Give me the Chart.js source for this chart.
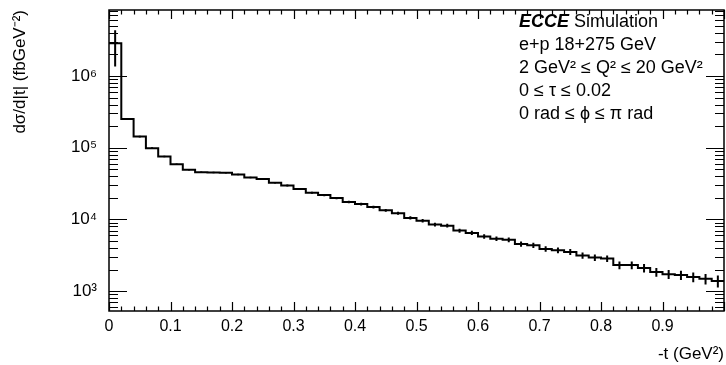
<!DOCTYPE html>
<html>
<head>
<meta charset="utf-8">
<script src="https://cdn.jsdelivr.net/npm/chart.js@4/dist/chart.umd.min.js"></script>
<style>
html, body { margin: 0; padding: 0; background: #fff; }
canvas { display: block; }
</style>
</head>
<body>
<canvas id="xsec" width="726" height="365"></canvas>
<script>
// -t bin edges (GeV^2), 50 bins of 0.02
const binEdges = [0, 0.02, 0.04, 0.06, 0.08, 0.10, 0.12, 0.14, 0.16, 0.18,
  0.20, 0.22, 0.24, 0.26, 0.28, 0.30, 0.32, 0.34, 0.36, 0.38,
  0.40, 0.42, 0.44, 0.46, 0.48, 0.50, 0.52, 0.54, 0.56, 0.58,
  0.60, 0.62, 0.64, 0.66, 0.68, 0.70, 0.72, 0.74, 0.76, 0.78,
  0.80, 0.82, 0.84, 0.86, 0.88, 0.90, 0.92, 0.94, 0.96, 0.98, 1.00];

// dsigma/d|t| per bin (fb GeV^-2)
const xsec = [2.85e6, 2.52e5, 1.43e5, 9.86e4, 7.55e4, 5.88e4, 4.93e4, 4.55e4, 4.52e4, 4.48e4,
  4.24e4, 3.85e4, 3.66e4, 3.25e4, 2.98e4, 2.66e4, 2.36e4, 2.19e4, 1.99e4, 1.75e4,
  1.64e4, 1.49e4, 1.34e4, 1.22e4, 1.05e4, 9.6e3, 8.5e3, 8.2e3, 7.0e3, 6.5e3,
  5.8e3, 5.4e3, 5.2e3, 4.56e3, 4.36e3, 3.89e3, 3.72e3, 3.53e3, 3.14e3, 2.94e3,
  2.85e3, 2.31e3, 2.31e3, 2.11e3, 1.85e3, 1.73e3, 1.68e3, 1.58e3, 1.49e3, 1.39e3];

// statistical error per bin
const xsecErr = [1.5e6, 8e3, 4e3, 2.5e3, 2e3, 1.4e3, 1.2e3, 1.1e3, 1.1e3, 1.1e3,
  1.1e3, 1.0e3, 1.0e3, 900, 900, 800, 800, 800, 700, 700,
  700, 650, 600, 600, 550, 550, 500, 500, 450, 450,
  420, 400, 400, 380, 370, 350, 340, 330, 310, 300,
  300, 290, 290, 280, 260, 250, 250, 250, 250, 260];

const yLabelled = [1e3, 1e4, 1e5, 1e6];
const infoLines = [
  'e+p 18+275 GeV',
  '2 GeV\u00b2 \u2264 Q\u00b2 \u2264 20 GeV\u00b2',
  '0 \u2264 \u03c4 \u2264 0.02',
  '0 rad \u2264 \u03d5 \u2264 \u03c0 rad'
];

const FONT = 'Liberation Sans, Arial, Helvetica, sans-serif';
const sup = { '0': '\u2070', '1': '\u00b9', '2': '\u00b2', '3': '\u00b3', '4': '\u2074',
  '5': '\u2075', '6': '\u2076', '7': '\u2077', '8': '\u2078', '9': '\u2079' };

// histogram outline: one point per left edge + closing point at x=1
const stepPts = binEdges.map((e, i) => ({ x: e, y: xsec[Math.min(i, xsec.length - 1)] }));
// vertical error bars at bin centres, separated by gaps
const errPts = [];
xsec.forEach((v, i) => {
  const c = (binEdges[i] + binEdges[i + 1]) / 2;
  errPts.push({ x: c, y: v - xsecErr[i] }, { x: c, y: v + xsecErr[i] }, { x: c, y: null });
});

// ROOT style frame: inward ticks on all four sides + the label box
const rootFrame = {
  id: 'rootFrame',
  afterDatasetsDraw(chart) {
    const { ctx, chartArea: a, scales: { x, y } } = chart;
    ctx.save();
    ctx.strokeStyle = '#000';
    ctx.lineWidth = 1.2;
    ctx.beginPath();
    x.ticks.forEach(t => {
      const px = Math.round(x.getPixelForValue(t.value)) + 0.5;
      const len = Math.round(t.value * 50) % 5 === 0 ? 9 : 4.5;
      ctx.moveTo(px, a.bottom); ctx.lineTo(px, a.bottom - len);
      ctx.moveTo(px, a.top); ctx.lineTo(px, a.top + len);
    });
    for (let d = 2; d <= 6; d++) {
      for (let m = 1; m <= 9; m++) {
        const v = m * Math.pow(10, d);
        if (v < y.min || v > y.max) continue;
        const py = Math.round(y.getPixelForValue(v)) + 0.5;
        const len = m === 1 ? 18 : 9;
        ctx.moveTo(a.left, py); ctx.lineTo(a.left + len, py);
        ctx.moveTo(a.right, py); ctx.lineTo(a.right - len, py);
      }
    }
    ctx.stroke();
    ctx.lineWidth = 1.5;
    ctx.strokeRect(a.left, a.top, a.right - a.left, a.bottom - a.top);

    // text box
    ctx.fillStyle = '#000';
    ctx.textBaseline = 'middle';
    const tx = a.left + 410;
    let ty = a.top + 12;
    ctx.font = 'italic bold 18px ' + FONT;
    ctx.fillText('ECCE', tx, ty);
    const w = ctx.measureText('ECCE').width;
    ctx.font = '18px ' + FONT;
    ctx.fillText(' Simulation', tx + w, ty);
    infoLines.forEach(line => {
      ty += 23;
      ctx.fillText(line, tx, ty);
    });
    ctx.restore();
  }
};

new Chart(document.getElementById('xsec'), {
  type: 'line',
  data: {
    datasets: [
      {
        data: stepPts,
        stepped: true,
        borderColor: '#000',
        borderWidth: 2,
        pointRadius: 0,
        fill: false
      },
      {
        data: errPts,
        borderColor: '#000',
        borderWidth: 2,
        pointRadius: 0,
        fill: false,
        spanGaps: false
      }
    ]
  },
  options: {
    responsive: false,
    animation: false,
    layout: { padding: { top: 10, right: 2, left: 0, bottom: 0 } },
    plugins: { legend: { display: false }, tooltip: { enabled: false } },
    scales: {
      x: {
        type: 'linear',
        min: 0,
        max: 1,
        grid: { display: false, drawTicks: false },
        border: { display: false },
        ticks: {
          stepSize: 0.02,
          autoSkip: false,
          maxRotation: 0,
          padding: 6,
          color: '#000',
          font: { family: FONT, size: 16 },
          callback: (v) => {
            const k = Math.round(v * 50);
            if (k % 5 !== 0 || k >= 50) return '';
            return k === 0 ? '0' : (k / 50).toFixed(1);
          }
        },
        title: {
          display: true,
          text: '-t (GeV\u00b2)',
          align: 'end',
          color: '#000',
          font: { family: FONT, size: 17 },
          padding: { top: 0, bottom: 0 }
        },
        afterFit: (s) => { s.height = 54; s.paddingLeft = 0; s.paddingRight = 0; }
      },
      y: {
        type: 'logarithmic',
        min: 530,
        max: 8.3e6,
        grid: { display: false, drawTicks: false },
        border: { display: false },
        ticks: {
          autoSkip: false,
          padding: 12,
          color: '#000',
          font: { family: FONT, size: 17 },
          callback: (v) => {
            const e = Math.round(Math.log10(v));
            if (Math.abs(Math.log10(v) - e) > 1e-6) return '';
            if (!yLabelled.includes(Math.pow(10, e))) return '';
            return '10' + String(e).split('').map(c => sup[c]).join('');
          }
        },
        title: {
          display: true,
          text: 'd\u03c3/d|t| (fbGeV\u207b\u00b2)',
          align: 'end',
          color: '#000',
          font: { family: FONT, size: 17 },
          padding: { top: 10, bottom: 0 }
        },
        afterFit: (s) => { s.width = 109; s.paddingTop = 0; s.paddingBottom = 0; }
      }
    }
  },
  plugins: [rootFrame]
});
</script>
</body>
</html>
